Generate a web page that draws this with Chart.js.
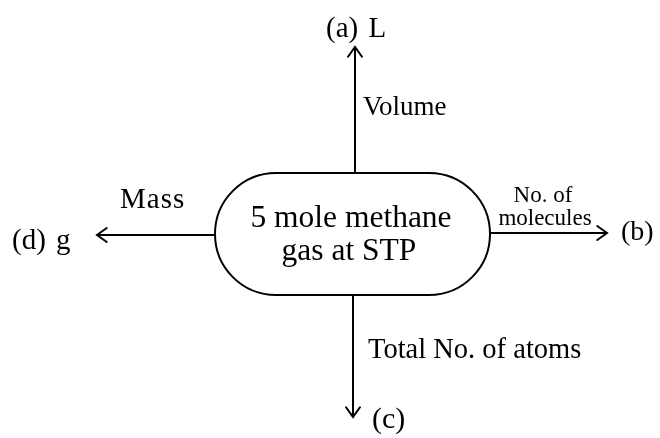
<!DOCTYPE html>
<html>
<head>
<meta charset="utf-8">
<script src="https://cdn.jsdelivr.net/npm/chart.js@4"></script>
<style>
html,body{margin:0;padding:0;background:#fff;}
#wrap{width:660px;height:438px;}
</style>
</head>
<body>
<div id="wrap"><canvas id="c" width="660" height="438"></canvas></div>
<script>
// ---- data (diagram coordinates, in the 660x438 diagram space) ----
const targetLabels = ['(a) L', '(b)', '(c)', '(d) g'];
const edgeLabels = [['Volume'], ['No. of', 'molecules'], ['Total No. of atoms'], ['Mass']];
const centerLabel = ['5 mole methane', 'gas at STP'];
const shaftStartX = [355, 490, 353, 215];
const shaftStartY = [173, 233, 295, 235];
const shaftEndX = [355, 607, 353, 97];
const shaftEndY = [47, 233, 417, 235];
const boxX = [215, 490];
const boxY = [173, 295];

// ---- layout / style (not data) ----
const FONT = "'Liberation Serif', 'Times New Roman', serif";
const targetPos = [
  {x: 326, y: 37, size: 29, align: 'left', ws: 3},
  {x: 621, y: 240, size: 28, align: 'left'},
  {x: 372, y: 428, size: 30, align: 'left'},
  {x: 12, y: 249, size: 29, align: 'left', ws: 3}
];
const edgePos = [
  [{x: 363, y: 115, size: 27, align: 'left'}],
  [{x: 543, y: 202, size: 23, align: 'center'}, {x: 545, y: 225, size: 23, align: 'center'}],
  [{x: 368, y: 358, size: 28.5, align: 'left'}],
  [{x: 120, y: 208, size: 29, align: 'left', ls: 1}]
];
const centerPos = [{x: 351, y: 227, size: 31.5}, {x: 349, y: 260, size: 31.5}];

const datasets = shaftStartX.map((x0, i) => ({
  label: targetLabels[i],
  data: [{x: x0, y: shaftStartY[i]}, {x: shaftEndX[i], y: shaftEndY[i]}],
  showLine: true,
  borderColor: '#000',
  borderWidth: 2,
  pointRadius: 0,
  fill: false
}));

const diagramPlugin = {
  id: 'diagram',
  afterDatasetsDraw(chart) {
    const ctx = chart.ctx;
    const xs = chart.scales.x, ys = chart.scales.y;
    const px = v => xs.getPixelForValue(v);
    const py = v => ys.getPixelForValue(v);
    ctx.save();
    ctx.strokeStyle = '#000';
    ctx.fillStyle = '#000';
    ctx.lineWidth = 2;
    ctx.lineCap = 'round';
    ctx.lineJoin = 'miter';
    // arrowheads
    for (let i = 0; i < shaftStartX.length; i++) {
      const x0 = px(shaftStartX[i]), y0 = py(shaftStartY[i]);
      const x1 = px(shaftEndX[i]), y1 = py(shaftEndY[i]);
      const ang = Math.atan2(y1 - y0, x1 - x0);
      const len = 12, spread = 0.62;
      ctx.beginPath();
      ctx.moveTo(x1 - len * Math.cos(ang - spread), y1 - len * Math.sin(ang - spread));
      ctx.lineTo(x1, y1);
      ctx.lineTo(x1 - len * Math.cos(ang + spread), y1 - len * Math.sin(ang + spread));
      ctx.stroke();
    }
    // stadium box
    const L = px(boxX[0]), R = px(boxX[1]), T = py(boxY[0]), B = py(boxY[1]);
    const r = (B - T) / 2;
    ctx.beginPath();
    ctx.moveTo(L + r, T);
    ctx.lineTo(R - r, T);
    ctx.arc(R - r, T + r, r, -Math.PI / 2, Math.PI / 2);
    ctx.lineTo(L + r, B);
    ctx.arc(L + r, T + r, r, Math.PI / 2, Math.PI * 1.5);
    ctx.closePath();
    ctx.fillStyle = '#fff';
    ctx.fill();
    ctx.stroke();
    ctx.fillStyle = '#000';
    ctx.textBaseline = 'alphabetic';
    const draw = (t, p) => {
      ctx.font = p.size + 'px ' + FONT;
      ctx.textAlign = p.align || 'center';
      ctx.wordSpacing = (p.ws || 0) + 'px';
      ctx.letterSpacing = (p.ls || 0) + 'px';
      ctx.fillText(t, px(p.x), py(p.y));
    };
    centerLabel.forEach((t, i) => draw(t, centerPos[i]));
    targetLabels.forEach((t, i) => draw(t, targetPos[i]));
    edgeLabels.forEach((lines, i) => lines.forEach((t, j) => draw(t, edgePos[i][j])));
    ctx.restore();
  }
};

new Chart(document.getElementById('c'), {
  type: 'scatter',
  data: {datasets},
  options: {
    responsive: false,
    animation: false,
    layout: {padding: 0},
    plugins: {legend: {display: false}, tooltip: {enabled: false}},
    scales: {
      x: {type: 'linear', min: 0, max: 660, display: false},
      y: {type: 'linear', min: 0, max: 438, reverse: true, display: false}
    }
  },
  plugins: [diagramPlugin]
});
</script>
</body>
</html>
